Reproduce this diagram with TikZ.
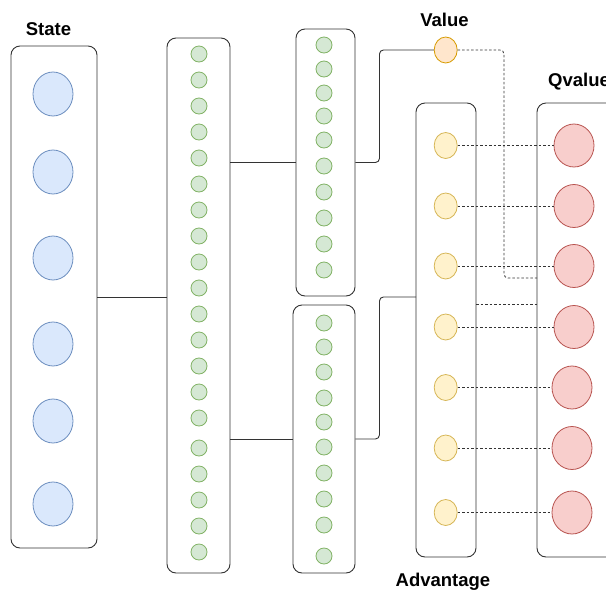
\documentclass[tikz,border=0pt]{standalone}
\usepackage{fontspec}
\setmainfont{Liberation Sans}
\usetikzlibrary{shapes.geometric}
\definecolor{boxline}{HTML}{333333}
\definecolor{linec}{HTML}{333333}
\definecolor{bluefill}{HTML}{DAE8FC}
\definecolor{blueline}{HTML}{6C8EBF}
\definecolor{greenfill}{HTML}{D5E8D4}
\definecolor{greenline}{HTML}{82B366}
\definecolor{yelfill}{HTML}{FFF2CC}
\definecolor{yelline}{HTML}{D6B656}
\definecolor{orfill}{HTML}{FFE6CC}
\definecolor{orline}{HTML}{D79B00}
\definecolor{redfill}{HTML}{F8CECC}
\definecolor{redline}{HTML}{B85450}
\tikzset{
  layerbox/.style={draw=boxline, line width=0.9pt, rounded corners=9pt, inner sep=0pt},
  bluenode/.style={ellipse, draw=blueline, fill=bluefill, line width=0.8pt, minimum width=40pt, minimum height=44pt, inner sep=0pt},
  greennode/.style={circle, draw=greenline, fill=greenfill, line width=0.8pt, minimum size=16pt, inner sep=0pt},
  yelnode/.style={ellipse, draw=yelline, fill=yelfill, line width=0.8pt, minimum width=23pt, minimum height=26pt, inner sep=0pt},
  ornode/.style={ellipse, draw=orline, fill=orfill, line width=0.8pt, minimum width=23pt, minimum height=26pt, inner sep=0pt},
  rednode/.style={ellipse, draw=redline, fill=redfill, line width=0.8pt, minimum width=40pt, minimum height=43pt, inner sep=0pt},
  link/.style={draw=linec, line width=0.9pt, rounded corners=4pt},
  dlink/.style={draw=linec, line width=0.8pt, dash pattern=on 2.5pt off 2pt, rounded corners=4pt},
  title/.style={font=\fontsize{18.5}{22}\selectfont\bfseries, inner sep=0pt}
}
\begin{document}
\begin{tikzpicture}[x=1pt,y=-1pt]
\useasboundingbox (0,0) rectangle (606,590);
\clip (0,0) rectangle (606,590);
\fill[white] (0,0) rectangle (606,590);

% boxes
\node[layerbox, minimum width=86pt, minimum height=502pt] (state) at (54,297) {};
\node[layerbox, minimum width=63pt, minimum height=535pt] (ga) at (198.5,305.5) {};
\node[layerbox, minimum width=59pt, minimum height=267pt] (gb) at (325.5,162.5) {};
\node[layerbox, minimum width=62pt, minimum height=268pt] (gc) at (324,439) {};
\node[layerbox, minimum width=60pt, minimum height=454pt] (adv) at (446,330) {};
\node[layerbox, minimum width=110pt, minimum height=454pt] (qbox) at (592,330) {};

% labels
\node[title, anchor=base] (tstate) at (48.5,35) {State};
\node[title, anchor=base] (tvalue) at (444.5,26.5) {Value};
\node[title, anchor=base west] (tq) at (548,86) {Qvalue};
\node[title, anchor=base] (tadv) at (443,586) {Advantage};

% value node
\node[ornode] (val) at (445.7,50) {};

% helper coordinates
\coordinate (sIn) at (167,297);
\coordinate (advIn) at (416,297);
\coordinate (vTurn) at (504,278);
\coordinate (qIn1) at (537,278);
\coordinate (advOut) at (476,304);
\coordinate (qIn2) at (537,304);

% solid connectors
\draw[link] (state.east |- sIn) -- (sIn);
\draw[link] (ga.east |- gb.west) -- (gb.west);
\draw[link] (ga.east |- gc.west) -- (gc.west);
\draw[link] (gb.east) -- ++(24,0) |- (val.west);
\draw[link] (gc.east) -- ++(24,0) |- (advIn);

% dashed connectors from value and advantage box
\draw[dlink] (val.east) -| (vTurn) -- (qIn1);
\draw[dlink] (advOut) -- (qIn2);

% state nodes
\foreach \y [count=\i] in {94,172,258,344,421,504}
  \node[bluenode] (s\i) at (53,\y) {};

% hidden layer 1
\foreach \y [count=\i] in {54,80,106,132,158,184,210,236,262,288,314,340,366,392,418,448,474,500,526,552}
  \node[greennode] (ha\i) at (199,\y) {};

% hidden layer 2 top
\foreach \y [count=\i] in {45,69,93,116,140,166,192,218,244,270}
  \node[greennode] (hb\i) at (324,\y) {};

% hidden layer 2 bottom
\foreach \y [count=\i] in {323,347,372,398,422,447,473,499,525,556}
  \node[greennode] (hc\i) at (324,\y) {};

% advantage and q nodes
\foreach \y/\qx [count=\i] in {145.5/574,206/574,266/574,327/574,387.5/572,448/572,512.5/572}{
  \node[yelnode] (a\i) at (445.7,\y) {};
  \node[rednode] (q\i) at (\qx,\y) {};
  \draw[dlink] (a\i) -- (q\i);
}
\end{tikzpicture}
\end{document}
